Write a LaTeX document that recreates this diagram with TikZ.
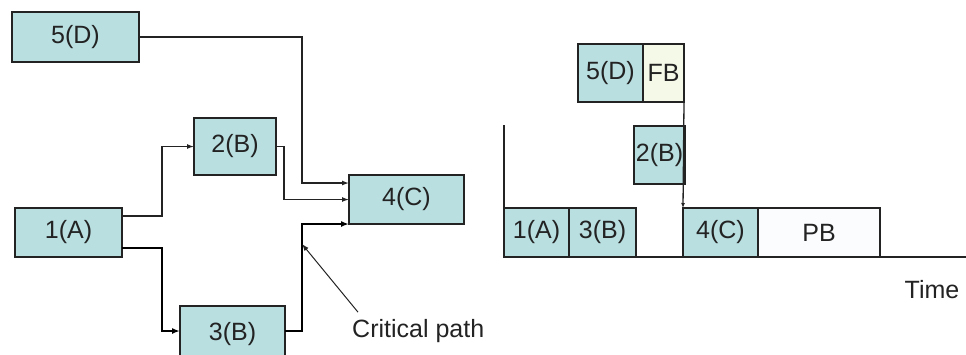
\documentclass[tikz,border=0pt]{standalone}
\usepackage{fontspec}
\setmainfont{Liberation Sans}
\usetikzlibrary{positioning,arrows.meta}
\definecolor{jobfill}{RGB}{185,223,225}
\definecolor{fbfill}{RGB}{245,249,232}
\definecolor{pbfill}{RGB}{250,252,253}
\definecolor{edge}{RGB}{35,35,35}

\begin{document}
\begin{tikzpicture}[x=1pt,y=-1pt,
						job/.style={rectangle,draw=edge,line width=2pt,fill=jobfill,inner sep=0pt,outer sep=0pt,minimum height=49pt,text=edge,font=\fontsize{25}{30}\selectfont},
						fb/.style={job,fill=fbfill},
						pb/.style={job,fill=pbfill},
						link/.style={draw=edge,line width=1.3pt,-{Latex[length=7pt,width=5pt]}},
						crit/.style={draw=black,line width=2.4pt,-{Latex[length=8pt,width=6pt]}},
						axis/.style={draw=edge,line width=1.5pt},
						label/.style={inner sep=0pt,text=edge,font=\fontsize{25}{30}\selectfont}]
		\useasboundingbox (0,0) rectangle (966,354);

		% network
		\node[job,minimum width=127pt,minimum height=50pt]	(D5)	at (75.5,37)	{5(D)};
		\node[job,minimum width=82pt,minimum height=57pt]	(B2)	at (235,146.5)	{2(B)};
		\node[job,minimum width=107pt]						(A1)	at (68.5,232.5)	{1(A)};
		\node[job,minimum width=105pt,minimum height=56pt]	(B3)	at (232.5,334)	{\raisebox{3pt}{3(B)}};
		\node[job,minimum width=115pt]						(C4)	at (406.5,199.5)	{4(C)};

		\draw[link] (D5.east) -| (302,183) -- ([yshift=16.5pt]C4.west);
		\draw[link] (B2.east) -| (284,199.5) -- (C4.west);
		\draw[link] ([yshift=16.5pt]A1.east) -| (162,146.5) -- (B2.west);
		\draw[crit] ([yshift=-15.5pt]A1.east) -| (162,331) -- ([yshift=3pt]B3.west);
		\draw[crit] ([yshift=3pt]B3.east) -| (302,224) -- (C4.south west);

		\node[label,anchor=west]	(cpl)	at (352,331)	{Critical path};
		\coordinate (cp) at (302,244);
		\draw[link,line width=1pt] ([xshift=6pt,yshift=7pt]cpl.north west) -- (cp);

		% schedule
		\coordinate (ytop) at (504,125);
		\coordinate (xend) at (966,257);
		\draw[axis] (ytop) |- (xend);

		\node[job,minimum width=65pt,anchor=south west]	(gA1)	at (504,257)	{1(A)};
		\node[job,minimum width=67pt,right=0pt of gA1]	(gB3)	{3(B)};
		\node[job,minimum width=75pt,right=47pt of gB3]	(gC4)	{4(C)};
		\node[pb,minimum width=122pt,right=0pt of gC4]	(gPB)	{PB};
		\node[job,minimum width=65pt,minimum height=58pt,anchor=north west]	(gD5)	at (578,44)	{5(D)};
		\node[fb,minimum width=41pt,minimum height=58pt,right=0pt of gD5]	(gFB)	{FB};
		\node[job,minimum width=51pt,minimum height=58pt,anchor=north east]	(gB2)	at (685,126)	{2(B)};

		\draw[link,-{Latex[length=5pt,width=4pt]}] (gFB.south east) -- (gC4.north west);

		\node[label]	(time)	at (932,290)	{Time};
	\end{tikzpicture}
\end{document}
